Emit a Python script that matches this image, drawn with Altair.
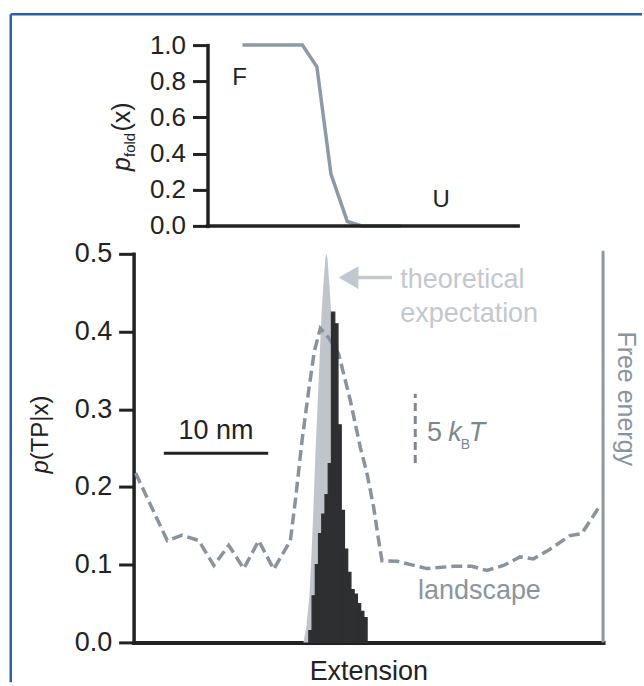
import altair as alt
import pandas as pd

# ---------------- data ----------------
# top panel: p_fold(x) versus extension (nm)
pfold_x = [10.44, 16.18, 17.57, 18.92, 20.49, 21.87, 25.60]
pfold_y = [1.0, 1.0, 0.88, 0.286, 0.024, 0.0, 0.0]
pfold_ticks = [0.0, 0.2, 0.4, 0.6, 0.8, 1.0]
top_axis_extent = [7.085, 36.86]   # extension range spanned by the top panel axis
state_labels = ["F", "U"]
state_x = [10.15, 29.49]
state_y = [0.818, 0.144]

# main panel: histogram p(TP|x), bin edges in nm
hist_x0 = [16.80, 17.11, 17.42, 17.73, 18.04, 18.35, 18.66, 18.97, 19.28,
           19.59, 19.90, 20.21, 20.52, 20.83, 21.14, 21.45, 21.76, 22.07]
hist_x1 = [17.11, 17.42, 17.73, 18.04, 18.35, 18.66, 18.97, 19.28, 19.59,
           19.90, 20.21, 20.52, 20.83, 21.14, 21.45, 21.76, 22.07, 22.38]
hist_y = [0.015, 0.06, 0.10, 0.14, 0.165, 0.19, 0.23, 0.425, 0.41,
          0.28, 0.17, 0.12, 0.09, 0.068, 0.062, 0.05, 0.04, 0.032]

# theoretical expectation
theory_x = [16.28, 16.56, 16.85, 17.04, 17.23, 17.42, 17.62, 17.81, 18.00, 18.19,
            18.38, 18.48, 18.58, 18.77, 18.96, 19.15, 19.34, 19.53, 19.72, 19.91,
            20.11, 20.30, 20.49, 20.68, 20.87, 21.06]
theory_y = [0.0, 0.02, 0.06, 0.11, 0.17, 0.24, 0.30, 0.36, 0.42, 0.46,
            0.495, 0.50, 0.495, 0.46, 0.42, 0.36, 0.30, 0.25, 0.20, 0.15,
            0.11, 0.075, 0.045, 0.02, 0.005, 0.0]

# free energy landscape (dashed)
fe_x = [0.19, 3.23, 4.66, 6.25, 7.69, 9.12, 10.56, 12.00, 13.43, 15.03, 15.51, 16.15,
        16.78, 17.33, 17.90, 18.70, 19.66, 20.78, 21.73, 22.38, 23.01, 23.49, 23.81,
        25.25, 28.12, 30.67, 32.43, 33.86, 35.45, 37.05, 38.32, 39.92, 41.84, 42.96, 44.71]
fe_y = [0.218, 0.131, 0.138, 0.131, 0.099, 0.125, 0.095, 0.131, 0.094, 0.131, 0.183, 0.26,
        0.324, 0.375, 0.404, 0.392, 0.371, 0.311, 0.251, 0.217, 0.174, 0.131, 0.105,
        0.1045, 0.095, 0.098, 0.098, 0.0925, 0.099, 0.11, 0.1075, 0.12, 0.1375, 0.14, 0.176]
main_ticks = [0.0, 0.1, 0.2, 0.3, 0.4, 0.5]
fe_axis_top = 0.504

X_DOMAIN = [0, 45]

# ---------------- style ----------------
FONT = "Liberation Sans"
INK = "#222222"
FRAME = "#2862a8"
DARK = "#2e2f31"
LIGHT = "#c0c5cb"
LIGHT_TXT = "#c3c8ce"
GRAY = "#8a939c"
GRAY_TXT = "#8b949c"
KBT = "#7e8790"
PF_COL = "#8d99a4"

one = pd.DataFrame({"k": [0]})
pf_df = pd.DataFrame({"x": pfold_x, "y": pfold_y})
base_df = pd.DataFrame({"x": [top_axis_extent[0]], "x2": [top_axis_extent[1]], "y": [0.0]})
state_df = pd.DataFrame({"x": state_x, "y": state_y, "t": state_labels})
hist_df = pd.DataFrame({"x": hist_x0, "x2": hist_x1, "y": hist_y})
th_df = pd.DataFrame({"x": theory_x, "y": theory_y})
fe_df = pd.DataFrame({"x": fe_x, "y": fe_y})

# ---------------- top panel ----------------
xs = alt.Scale(domain=X_DOMAIN, nice=False, zero=False)
ys_top = alt.Scale(domain=[0, 1], nice=False)
top_y_axis = alt.Axis(offset=-74, values=pfold_ticks, tickCount=6, format=".1f", grid=False,
                      title=None, domainColor=INK, domainWidth=3.5, domainCap="square",
                      tickColor=INK, tickWidth=3, tickSize=15, labelOverlap=False,
                      labelFontSize=26, labelColor=INK, labelPadding=7)

def TX(f="x:Q"):
    return alt.X(f, scale=xs, axis=None)

def TY(f="y:Q"):
    return alt.Y(f, scale=ys_top, axis=top_y_axis, title=None)

def txt(text, size=24, **kw):
    return alt.Chart(one).mark_text(text=text, fontSize=size, **kw)

pf_line = alt.Chart(pf_df).mark_line(color=PF_COL, strokeWidth=3.5).encode(x=TX(), y=TY())
top_base = alt.Chart(base_df).mark_rule(color=INK, strokeWidth=3.5, strokeCap="square").encode(
    x=TX(), x2=alt.X2("x2:Q"), y=TY())
states = alt.Chart(state_df).mark_text(fontSize=24, color=INK, align="center", baseline="middle").encode(
    x=TX(), y=TY(), text="t:N")

# y title p_fold(x)
t_p = txt("p", 25, color=INK, fontStyle="italic", angle=270, align="left", baseline="alphabetic").encode(
    x=alt.value(-4), y=alt.value(126))
t_fold = txt("fold", 15, color=INK, angle=270, align="left", baseline="alphabetic").encode(
    x=alt.value(1), y=alt.value(112))
t_x = txt("(x)", 25, color=INK, angle=270, align="left", baseline="alphabetic").encode(
    x=alt.value(-4), y=alt.value(86.5))

# frame
frame_left = alt.Chart(one).mark_rule(color=FRAME, strokeWidth=2.5).encode(
    x=alt.value(-123), y=alt.value(-31), y2=alt.value(638))
frame_top = alt.Chart(one).mark_rule(color=FRAME, strokeWidth=2.5).encode(
    x=alt.value(-123), x2=alt.value(509), y=alt.value(-31))

top = alt.layer(pf_line, top_base, states, t_p, t_fold, t_x, frame_left, frame_top).properties(
    width=470, height=181)

# ---------------- main panel ----------------
ys = alt.Scale(domain=[0, 0.5], nice=False)
main_x_axis = alt.Axis(ticks=False, labels=False, grid=False, domainColor=INK, domainWidth=4,
                       domainCap="square", title="Extension", titleFontSize=27,
                       titleFontWeight="normal", titleColor=INK, titlePadding=16)
main_y_axis = alt.Axis(values=main_ticks, format=".1f", grid=False, title=None,
                       domainColor=INK, domainWidth=3.5, domainCap="square",
                       tickColor=INK, tickWidth=3, tickSize=15, labelOverlap=False,
                       labelFontSize=27, labelColor=INK, labelPadding=7)

def X(f="x:Q"):
    return alt.X(f, scale=xs, axis=main_x_axis, title="Extension")

def Y(f="y:Q"):
    return alt.Y(f, scale=ys, axis=main_y_axis, title=None)

theory = alt.Chart(th_df).mark_area(color=LIGHT, opacity=1).encode(x=X(), y=Y())
fe_line = alt.Chart(fe_df).mark_line(color=GRAY, strokeWidth=3.5, strokeDash=[11, 5]).encode(x=X(), y=Y())
hist = alt.Chart(hist_df).mark_rect(color=DARK, stroke=DARK, strokeWidth=1.3).encode(
    x=X(), x2=alt.X2("x2:Q"), y=Y(), y2=alt.datum(0))

fe_axis = alt.Chart(one).mark_rule(color="#8f979f", strokeWidth=3).encode(
    x=alt.datum(X_DOMAIN[1]), y=alt.datum(0), y2=alt.datum(fe_axis_top))
fe_title = txt("Free energy", 25, color=GRAY_TXT, angle=90, align="center", baseline="middle").encode(
    x=alt.datum(47.2), y=alt.datum(0.3136))

bar10 = alt.Chart(one).mark_rule(color=INK, strokeWidth=3).encode(
    x=alt.datum(2.9), x2=alt.datum(12.9), y=alt.datum(0.2433))
bar10_t = txt("10 nm", 27, color=INK, align="center", baseline="alphabetic").encode(
    x=alt.datum(7.9), y=alt.datum(0.2618))

kbt_bar = alt.Chart(one).mark_rule(color=KBT, strokeWidth=3, strokeDash=[8, 5]).encode(
    x=alt.datum(27.0), y=alt.datum(0.231), y2=alt.datum(0.32))
k5 = txt("5", 27, color=KBT, align="left", baseline="alphabetic").encode(x=alt.datum(28.12), y=alt.datum(0.2596))
kk = txt("k", 27, color=KBT, fontStyle="italic", align="left", baseline="alphabetic").encode(x=alt.datum(30.16), y=alt.datum(0.2596))
kb = txt("B", 14, color=KBT, align="left", baseline="alphabetic").encode(x=alt.datum(31.35), y=alt.datum(0.249))
kt = txt("T", 27, color=KBT, fontStyle="italic", align="left", baseline="alphabetic").encode(x=alt.datum(32.12), y=alt.datum(0.2596))

arrow_line = alt.Chart(one).mark_rule(color=LIGHT_TXT, strokeWidth=3.5).encode(
    x=alt.datum(20.6), x2=alt.datum(24.77), y=alt.datum(0.4695))
arrow_head = alt.Chart(one).mark_point(shape="triangle-left", filled=True, size=520,
                                       color=LIGHT_TXT, opacity=1).encode(
    x=alt.datum(20.6), y=alt.datum(0.4695))
theo1 = txt("theoretical", 27, color=LIGHT_TXT, align="left", baseline="alphabetic").encode(
    x=alt.datum(25.56), y=alt.datum(0.4563))
theo2 = txt("expectation", 27, color=LIGHT_TXT, align="left", baseline="alphabetic").encode(
    x=alt.datum(25.56), y=alt.datum(0.4126))
land = txt("landscape", 27, color=GRAY_TXT, align="left", baseline="alphabetic").encode(
    x=alt.datum(27.26), y=alt.datum(0.0562))

# y title p(TP|x)
m_p = txt("p", 24, color=INK, fontStyle="italic", angle=270, align="left", baseline="alphabetic").encode(
    x=alt.value(-85.8), y=alt.value(220))
m_rest = txt("(TP|x)", 24, color=INK, angle=270, align="left", baseline="alphabetic").encode(
    x=alt.value(-85.8), y=alt.value(206.7))

main = alt.layer(theory, fe_line, hist, fe_axis, fe_title, bar10, bar10_t,
                 kbt_bar, k5, kk, kb, kt, arrow_line, arrow_head, theo1, theo2, land,
                 m_p, m_rest).properties(width=470, height=389)

chart = alt.vconcat(top, main, spacing=28, bounds="flush").properties(
    padding={"left": 8.75, "top": 11.75, "right": 0, "bottom": 0}
).configure(font=FONT, view=alt.ViewConfig(stroke=None))

chart.save("out.html", embed_options={"renderer": "svg", "actions": False})
